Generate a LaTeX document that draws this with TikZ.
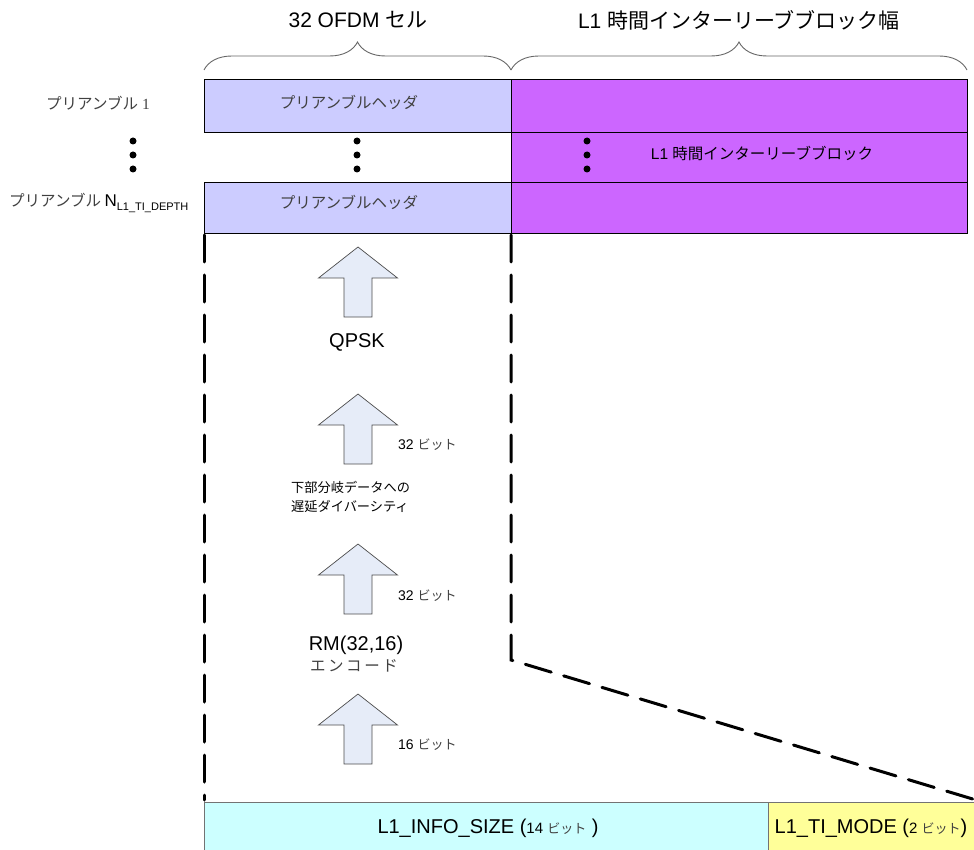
\documentclass[tikz,border=0pt]{standalone}
\usepackage{fontspec}
\setmainfont{Liberation Sans}
\newfontfamily\jp{Noto Sans CJK JP}
\newfontfamily\serifjp{Liberation Serif}
\usetikzlibrary{decorations.pathreplacing}
\definecolor{hdrblue}{HTML}{CCCCFF}
\definecolor{tipurple}{HTML}{CC66FF}
\definecolor{infocyan}{HTML}{CCFFFF}
\definecolor{modeyellow}{HTML}{FFFF99}
\definecolor{arrfill}{HTML}{E6ECF8}
\definecolor{txtgrey}{HTML}{404040}
\newcommand\fs[1]{\fontsize{#1}{#1}\selectfont}
\newcommand\myuparrow[3]{% name, x, ytop
  \draw[blockarr] (#2,#3) coordinate (#1) -- ++(39.5,31) -- ++(-25.5,0) -- ++(0,39) -- ++(-28,0) -- ++(0,-39) -- ++(-25.5,0) -- cycle;}
\begin{document}
\begin{tikzpicture}[x=1pt,y=-1pt,
  cell/.style={draw=black, line width=0.8pt, inner sep=0pt, anchor=north west},
  lbl/.style={inner sep=0pt, text=black},
  brc/.style={draw=black!60, line width=0.9pt, decorate, decoration={brace, amplitude=28pt}},
  dashbold/.style={draw=black, line width=3pt, dash pattern=on 27pt off 13pt, line cap=round},
  blockarr/.style={draw=black!70, line width=0.7pt, fill=arrfill},
  vdot/.style={circle, fill=black, inner sep=0pt, minimum size=7pt}]
\useasboundingbox (0,0) rectangle (974,850);
% top grid
\node[cell, fill=tipurple, minimum width=456pt, minimum height=53pt] (p1) at (511,79) {};
\node[cell, fill=tipurple, minimum width=456pt, minimum height=50pt] (p2) at (511,132) {};
\node[cell, fill=tipurple, minimum width=456pt, minimum height=51pt] (p3) at (511,182) {};
\node[cell, fill=hdrblue, minimum width=307pt, minimum height=53pt] (h1) at (204,79) {};
\node[cell, fill=hdrblue, minimum width=307pt, minimum height=51pt] (h3) at (204,182) {};
\node[lbl, text=txtgrey] (h1t) at (349,102) {\jp\fs{15.5}プリアンブルヘッダ};
\node[lbl, text=txtgrey] (h3t) at (349,202) {\jp\fs{15.5}プリアンブルヘッダ};
\node[lbl] (p2t) at (762,153) {\fs{15.5}L1 {\jp 時間インターリーブブロック}};
% braces
\coordinate (b1l) at (204,70); \coordinate (b1r) at (511,70);
\coordinate (b2l) at (511,70); \coordinate (b2r) at (967,70);
\draw[brc] (b1l) -- (b1r);
\draw[brc] (b2l) -- (b2r);
\node[lbl] (t1) at (358,20) {\fs{21}32 OFDM {\jp セル}};
\node[lbl] (t2) at (739,20) {\fs{21}L1 {\jp 時間インターリーブブロック幅}};
% left labels
\node[lbl, text=txtgrey] (l1) at (98,103) {\jp\fs{15.5}プリアンブル{\serifjp\ 1}};
\node[lbl, text=txtgrey, anchor=west] (l3) at (9,203) {\jp\fs{15.5}プリアンブル {\rmfamily\fs{17}\color{black}N\raisebox{-3.5pt}{\fs{11}L1\_TI\_DEPTH}}};
% dots
\foreach \xx/\nm in {133/a,357/b,587/c}{
  \node[vdot] (d\nm1) at (\xx,141) {};
  \node[vdot] (d\nm2) at (\xx,155) {};
  \node[vdot] (d\nm3) at (\xx,169) {};
}
% dashed lines
\coordinate (dl1) at (204,235); \coordinate (dl2) at (204,800);
\coordinate (dr1) at (511,235); \coordinate (dr2) at (511,660); \coordinate (dr3) at (976,800);
\draw[dashbold] (dl1) -- (dl2);
\draw[dashbold] (dr1) -- (dr2) -- (dr3);
% block arrows
\myuparrow{a1}{358}{247}
\myuparrow{a2}{358}{394}
\myuparrow{a3}{358}{544}
\myuparrow{a4}{358}{694}
% texts
\node[lbl] (qpsk) at (357,342) {\fs{20}QPSK};
\node[lbl, anchor=west] (b32a) at (398,445) {\fs{14}32 {\jp\fs{13}\color{txtgrey}ビット}};
\node[lbl, anchor=west] (dd1) at (291,487) {\jp\fs{13.2}下部分岐データへの};
\node[lbl, anchor=west] (dd2) at (291,506) {\jp\fs{13.2}遅延ダイバーシティ};
\node[lbl, anchor=west] (b32b) at (398,596) {\fs{14}32 {\jp\fs{13}\color{txtgrey}ビット}};
\node[lbl] (rm) at (356,645) {\fs{20}RM(32,16)};
\node[lbl, text=txtgrey] (enc) at (354,666) {\jp\fs{15.5}エ\,ン\,コ\,ー\,ド};
\node[lbl, anchor=west] (b16) at (398,745) {\fs{14}16 {\jp\fs{13}\color{txtgrey}ビット}};
% bottom boxes
\node[cell, draw=black!55, fill=infocyan, minimum width=564pt, minimum height=50pt] (info) at (204,802) {};
\node[cell, draw=black!55, fill=modeyellow, minimum width=208pt, minimum height=50pt] (mode) at (768,802) {};
\node[lbl] (infot) at (488,828) {\fs{20}L1\_INFO\_SIZE ({\fs{15}14 {\jp\fs{13}\color{txtgrey}ビット}} )};
\node[lbl] (modet) at (871,828) {\fs{20}L1\_TI\_MODE ({\fs{15}2 {\jp\fs{13}\color{txtgrey}ビット}})};
\end{tikzpicture}
\end{document}
